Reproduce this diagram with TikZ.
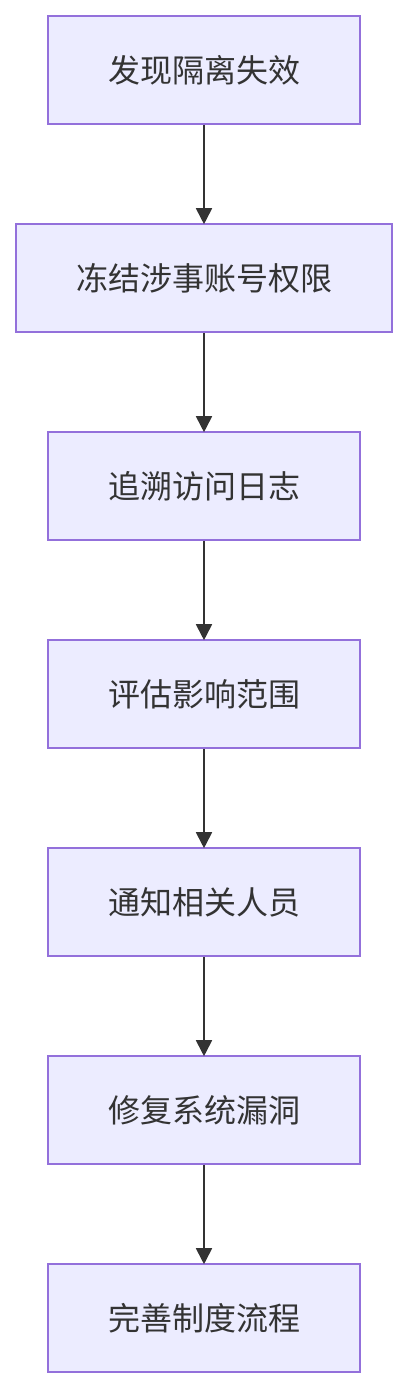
\documentclass[tikz,border=0pt]{standalone}
\usepackage{fontspec}
\newfontfamily\cjk{Noto Sans CJK SC}
\usetikzlibrary{arrows.meta}
\definecolor{boxfill}{HTML}{ECECFF}
\definecolor{boxline}{HTML}{9370DB}
\definecolor{txt}{HTML}{333333}
\begin{document}
\begin{tikzpicture}[x=1pt,y=1pt,
  stepbox/.style={draw=boxline,fill=boxfill,line width=1.6pt,minimum height=108pt,inner sep=0pt,font=\cjk\fontsize{32}{38}\selectfont,text=txt},
  conn/.style={draw=txt,line width=1.8pt,shorten >=-1pt,-{Triangle[length=16pt,width=16pt]}}]
\useasboundingbox (0,0) rectangle (408,-1388);
\node[stepbox,minimum width=312pt] (n1) at (204,-70) {发现隔离失效};
\node[stepbox,minimum width=376pt] (n2) at (204,-278) {冻结涉事账号权限};
\node[stepbox,minimum width=312pt] (n3) at (204,-486) {追溯访问日志};
\node[stepbox,minimum width=312pt] (n4) at (204,-694) {评估影响范围};
\node[stepbox,minimum width=312pt] (n5) at (204,-902) {通知相关人员};
\node[stepbox,minimum width=312pt] (n6) at (204,-1110) {修复系统漏洞};
\node[stepbox,minimum width=312pt] (n7) at (204,-1318) {完善制度流程};
\draw[conn] (n1) -- (n2);
\draw[conn] (n2) -- (n3);
\draw[conn] (n3) -- (n4);
\draw[conn] (n4) -- (n5);
\draw[conn] (n5) -- (n6);
\draw[conn] (n6) -- (n7);
\end{tikzpicture}
\end{document}
